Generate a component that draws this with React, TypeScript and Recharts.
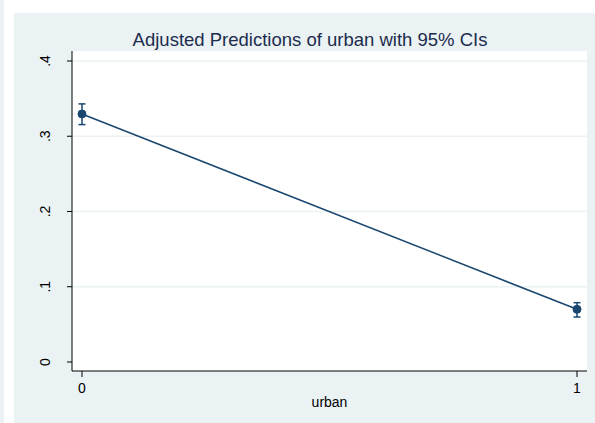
import { ComposedChart, Line, XAxis, YAxis, CartesianGrid, ErrorBar } from 'recharts'

// margins at urban = 0 / 1 with their 95% confidence bounds
const urban = [0, 1]
const margin = [0.3296, 0.07]
const lower = [0.3155, 0.0598]
const upper = [0.343, 0.0788]

const yTicks = [0, 0.1, 0.2, 0.3, 0.4]
const gridValues = [0.1, 0.2, 0.3, 0.4]
const xTicks = [0, 1]

const NAVY = '#1a476f'
const BG = '#eaf2f3'
const FONT = 'Arial, "Liberation Sans", Helvetica, sans-serif'

const data = urban.map((u, i) => ({
  urban: u,
  margin: margin[i],
  ci: [margin[i] - lower[i], upper[i] - margin[i]],
}))

const fmtY = (v: number) => (v === 0 ? '0' : String(v).replace(/^0/, ''))

function RotatedTick({ x, y, payload }: any) {
  const tx = x - 15
  return (
    <text
      x={tx}
      y={y}
      transform={`rotate(-90, ${tx}, ${y})`}
      textAnchor="middle"
      fontSize={14}
      fontFamily={FONT}
      fill="#000"
    >
      {fmtY(payload.value)}
    </text>
  )
}

export default function App() {
  return (
    <div style={{ position: 'fixed', left: 0, top: 0, width: 595, height: 423, background: '#fff' }}>
      <div style={{ position: 'absolute', left: 0, top: 0, width: 4, height: 423, background: BG }} />
      <div style={{ position: 'absolute', left: 14, top: 13, width: 581, height: 410, background: BG }} />
      <div style={{ position: 'absolute', left: 0, top: 0 }}>
        <ComposedChart
          width={595}
          height={423}
          data={data}
          margin={{ top: 51, right: 8, left: 12, bottom: 22 }}
        >
          <CartesianGrid
            fill="#fff"
            stroke={BG}
            strokeWidth={1.5}
            vertical={false}
            horizontalValues={gridValues}
          />
          <XAxis
            dataKey="urban"
            type="number"
            domain={[-0.0202, 1.0202]}
            ticks={xTicks}
            height={30}
            tickSize={6}
            tickMargin={6}
            stroke="#000"
            tick={{ fontSize: 14, fontFamily: FONT, fill: '#000' }}
            label={{
              content: ({ viewBox }: any) => (
                <text
                  x={viewBox.x + viewBox.width / 2}
                  y={viewBox.y + 36}
                  textAnchor="middle"
                  fontSize={14}
                  fontFamily={FONT}
                  fill="#000"
                >
                  urban
                </text>
              ),
            }}
          />
          <YAxis
            type="number"
            domain={[-0.012, 0.4133]}
            ticks={yTicks}
            width={60}
            tickSize={5}
            stroke="#000"
            tick={<RotatedTick />}
          />
          <Line
            dataKey="margin"
            stroke={NAVY}
            strokeWidth={1.5}
            dot={{ r: 4, fill: NAVY, stroke: NAVY, strokeWidth: 1 }}
            isAnimationActive={false}
          >
            <ErrorBar dataKey="ci" direction="y" width={3.5} stroke={NAVY} strokeWidth={1.5} />
          </Line>
        </ComposedChart>
      </div>
      <svg width={595} height={60} style={{ position: 'absolute', left: 0, top: 0, pointerEvents: 'none' }}>
        <text x={310} y={46} textAnchor="middle" fontSize={18.5} fontFamily={FONT} fill="#1c2c4e">
          Adjusted Predictions of urban with 95% CIs
        </text>
      </svg>
    </div>
  )
}
